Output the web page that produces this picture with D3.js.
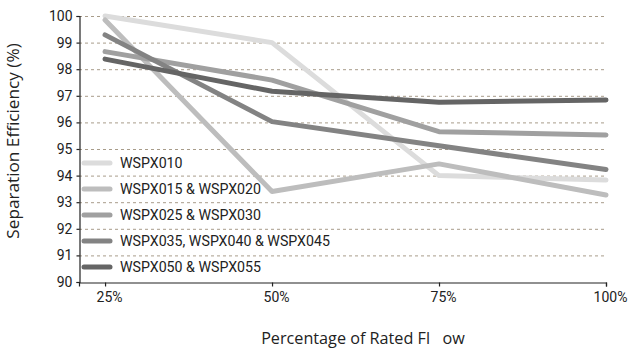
<!DOCTYPE html>
<html><head><meta charset="utf-8">
<script src="https://cdn.jsdelivr.net/npm/d3@7"></script>
<style>
body{margin:0;background:#fff;}
svg{display:block;}
</style></head>
<body><svg id="c" width="629" height="350"></svg>
<script>
const flowPct = [25, 50, 75, 100];
const flowLabels = ["25%", "50%", "75%", "100%"];
const seriesNames = ["WSPX010", "WSPX015 & WSPX020", "WSPX025 & WSPX030", "WSPX035, WSPX040 & WSPX045", "WSPX050 & WSPX055"];
const wspx010 = [100.0, 99.0, 94.0, 93.83];
const wspx015_020 = [99.85, 93.4, 94.44, 93.27];
const wspx025_030 = [98.66, 97.59, 95.65, 95.53];
const wspx035_045 = [99.29, 96.03, 95.12, 94.23];
const wspx050_055 = [98.38, 97.17, 96.76, 96.84];
const seriesColors = ["#dcdcdc", "#bdbdbd", "#a0a0a0", "#838383", "#656565"];
const yTicks = [90, 91, 92, 93, 94, 95, 96, 97, 98, 99, 100];

const seriesValues = [wspx010, wspx015_020, wspx025_030, wspx035_045, wspx050_055];

const svg = d3.select("#c");
const mLeft = 79, mRight = 606, mTop = 16, mBottom = 282;
const x = d3.scaleLinear().domain([21.1, 100]).range([mLeft, mRight]);
const y = d3.scaleLinear().domain([90, 100]).range([mBottom, mTop]);

// gridlines
svg.append("g").selectAll("line").data(yTicks.filter(d => d > 90)).join("line")
  .attr("x1", mLeft).attr("x2", mRight)
  .attr("y1", d => y(d) + 0.5).attr("y2", d => y(d) + 0.5)
  .attr("stroke", "#a89c8a").attr("stroke-width", 1).attr("stroke-dasharray", "3,3");

// axes
const fontTick = "Roboto, 'DejaVu Sans', sans-serif";
const yAxis = svg.append("g").attr("transform", `translate(${mLeft + 0.5},0)`)
  .call(d3.axisLeft(y).tickValues(yTicks).tickSize(3).tickSizeOuter(3).tickPadding(4));
const xAxis = svg.append("g").attr("transform", `translate(0,${mBottom + 0.5})`)
  .call(d3.axisBottom(x).tickValues(flowPct).tickFormat((d, i) => flowLabels[i]).tickSize(4).tickSizeOuter(4).tickPadding(6));
[yAxis, xAxis].forEach(a => {
  a.selectAll("path,line").attr("stroke", "#222").attr("stroke-width", 1.2);
  a.selectAll("text").attr("font-family", fontTick).attr("font-size", 14).attr("fill", "#222");
});
xAxis.selectAll(".tick text").attr("dx", 4);

// lines
const line = d3.line().x((d, i) => x(flowPct[i])).y(d => y(d));
svg.append("g").selectAll("path").data(seriesValues).join("path")
  .attr("d", d => line(d))
  .attr("fill", "none")
  .attr("stroke", (d, i) => seriesColors[i])
  .attr("stroke-width", 5)
  .attr("stroke-linejoin", "round")
  .attr("stroke-linecap", "round");

// legend
const lg = svg.append("g");
seriesNames.forEach((n, i) => {
  const yy = 163 + i * 26;
  lg.append("line").attr("x1", 84).attr("x2", 110).attr("y1", yy).attr("y2", yy)
    .attr("stroke", seriesColors[i]).attr("stroke-width", 5).attr("stroke-linecap", "round");
  lg.append("text").attr("x", 120).attr("y", yy + 5).text(n)
    .attr("font-family", fontTick).attr("font-size", 14.2).attr("fill", "#222");
});

// titles
svg.append("text").attr("transform", "translate(19,141) rotate(-90)")
  .attr("text-anchor", "middle").attr("font-family", "'Open Sans', sans-serif")
  .attr("font-size", 17.2).attr("fill", "#222").text("Separation Efficiency (%)");
svg.append("text").attr("x", 363).attr("y", 344).attr("text-anchor", "middle")
  .attr("font-family", "'Open Sans', sans-serif").attr("font-size", 16.2).attr("fill", "#222")
  .attr("xml:space", "preserve").style("white-space", "pre")
  .text("Percentage of Rated Fl   ow");
</script></body></html>
